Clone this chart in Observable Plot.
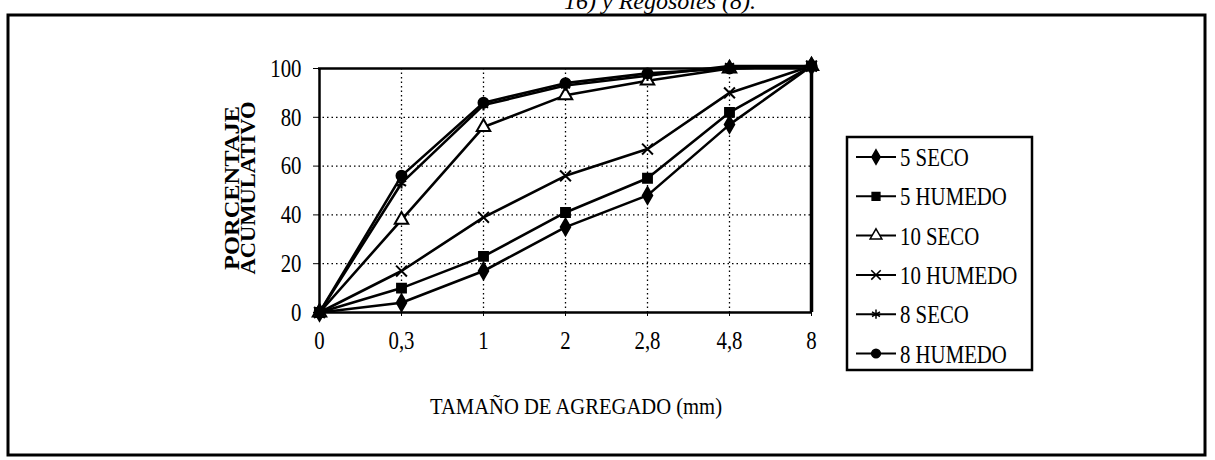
<!DOCTYPE html>
<html><head><meta charset="utf-8">
<script src="https://cdn.jsdelivr.net/npm/d3@7"></script>
<script src="https://cdn.jsdelivr.net/npm/@observablehq/plot@0.6"></script>
<style>
body{margin:0;background:#fff;}
#chart{position:relative;width:1215px;height:460px;overflow:hidden;background:#fff;}
</style></head><body><div id="chart"></div>
<script>
const categories = ["0", "0,3", "1", "2", "2,8", "4,8", "8"];
const seriesNames = ["5 SECO", "5 HUMEDO", "10 SECO", "10 HUMEDO", "8 SECO", "8 HUMEDO"];
const seco5 = [0, 4, 17, 35, 48, 77, 101];
const humedo5 = [0, 10, 23, 41, 55, 82, 101];
const seco10 = [0, 38, 76, 89, 95, 100, 101];
const humedo10 = [0, 17, 39, 56, 67, 90, 101];
const seco8 = [0, 53, 85, 93, 97, 101, 101];
const humedo8 = [0, 56, 86, 94, 98, 100, 101];
const yTicks = [0, 20, 40, 60, 80, 100];
const symbolNames = ["diamond", "square", "triangle", "times", "asterisk", "circle"];
const symbolFills = ["#000", "#000", "#fff", "none", "none", "#000"];
const yTitle = ["PORCENTAJE", "ACUMULATIVO"];
const xTitle = "TAMAÑO DE AGREGADO (mm)";
const topText = "16) y Regosoles (8).";

const seriesValues = [seco5, humedo5, seco10, humedo10, seco8, humedo8];
const rows = [];
seriesValues.forEach((vals, i) => vals.forEach((v, j) => rows.push({serie: seriesNames[i], x: categories[j], y: v, fill: symbolFills[i]})));

const W = 1215, H = 460;
const plot = Plot.plot({
  width: W, height: H,
  marginLeft: 318, marginRight: 403, marginTop: 68, marginBottom: 148,
  style: {fontFamily: "Liberation Serif", fontSize: "26px", color: "#000", background: "transparent", overflow: "visible"},
  x: {type: "point", domain: categories, padding: 0, label: null, tickSize: 4, tickPadding: 14},
  y: {domain: [0, 100], ticks: yTicks, label: null, tickSize: 5, tickPadding: 12},
  symbol: {domain: seriesNames, range: symbolNames},
  color: {type: "identity"},
  marks: [
    Plot.gridY(yTicks.filter(t => t > 0 && t < 100), {stroke: "#000", strokeOpacity: 1, strokeWidth: 1.3, strokeDasharray: "1.5,3"}),
    Plot.gridX(categories.slice(1, -1), {stroke: "#000", strokeOpacity: 1, strokeWidth: 1.3, strokeDasharray: "1.5,3"}),
    Plot.ruleY([0], {stroke: "#000", strokeWidth: 2.5}),
    Plot.ruleY([100], {stroke: "#000", strokeWidth: 2.5}),
    Plot.ruleX([categories[0]], {stroke: "#000", strokeWidth: 2.5}),
    Plot.ruleX([categories[categories.length - 1]], {stroke: "#000", strokeWidth: 3.5}),
    Plot.line(rows, {x: "x", y: "y", z: "serie", stroke: "#000", strokeWidth: 2.6}),
    Plot.dot(rows, {x: "x", y: "y", symbol: "serie", r: 5, fill: "fill", stroke: "#000", strokeWidth: 2})
  ]
});
document.getElementById("chart").appendChild(plot);

const svg = d3.select(plot);
// outer frame
svg.append("rect").attr("x", 8).attr("y", 15).attr("width", 1197).attr("height", 440)
  .attr("fill", "none").attr("stroke", "#000").attr("stroke-width", 3);
// clipped top caption (cut off at the top edge, as in the scan)
svg.append("text").attr("x", 660).attr("y", 9).attr("text-anchor", "middle")
  .attr("font-style", "italic").attr("font-family", "Liberation Serif").attr("font-size", 24).text(topText);
// y title
yTitle.forEach((t, i) => {
  svg.append("text").attr("transform", `translate(${232 + i * 16},188) rotate(-90)`)
    .attr("text-anchor", "middle").attr("dy", "0.35em").attr("font-weight", "bold")
    .attr("font-size", 20).attr("font-family", "Liberation Serif")
    .attr("textLength", i === 0 ? 164 : 173).attr("lengthAdjust", "spacingAndGlyphs").text(t);
});
// x title
svg.append("text").attr("x", 576).attr("y", 414).attr("text-anchor", "middle")
  .attr("font-size", 23).attr("font-family", "Liberation Serif")
  .attr("textLength", 292).attr("lengthAdjust", "spacingAndGlyphs").text(xTitle);

// legend (symbols taken from the plot's own symbol scale)
const sym = plot.scale("symbol");
const lg = svg.append("g");
lg.append("rect").attr("x", 847).attr("y", 137).attr("width", 185).attr("height", 233)
  .attr("fill", "#fff").attr("stroke", "#000").attr("stroke-width", 2.5);
seriesNames.forEach((name, i) => {
  const y = 157 + i * 39.3;
  const g = lg.append("g").attr("transform", `translate(0,${y})`);
  g.append("line").attr("x1", 856).attr("x2", 896).attr("y1", 0).attr("y2", 0).attr("stroke", "#000").attr("stroke-width", 2);
  const s = sym.apply(name);
  g.append("path").attr("transform", "translate(876,0)")
    .attr("d", d3.symbol(s, 60)())
    .attr("fill", symbolFills[i]).attr("stroke", "#000").attr("stroke-width", 1.5);
  g.append("text").attr("x", 900).attr("y", 0).attr("dy", "0.35em").attr("font-size", 26)
    .attr("text-anchor", "start")
    .attr("font-family", "Liberation Serif").attr("class", "cond").text(name);
});

// condense tick labels and legend text (scanned narrow serif look)
svg.selectAll("g[aria-label$='tick label'] text, text.cond").each(function() {
  const len = this.getComputedTextLength();
  if (len > 0) { this.setAttribute("textLength", (len * 0.8).toFixed(1)); this.setAttribute("lengthAdjust", "spacingAndGlyphs"); }
});
</script>
</body></html>
